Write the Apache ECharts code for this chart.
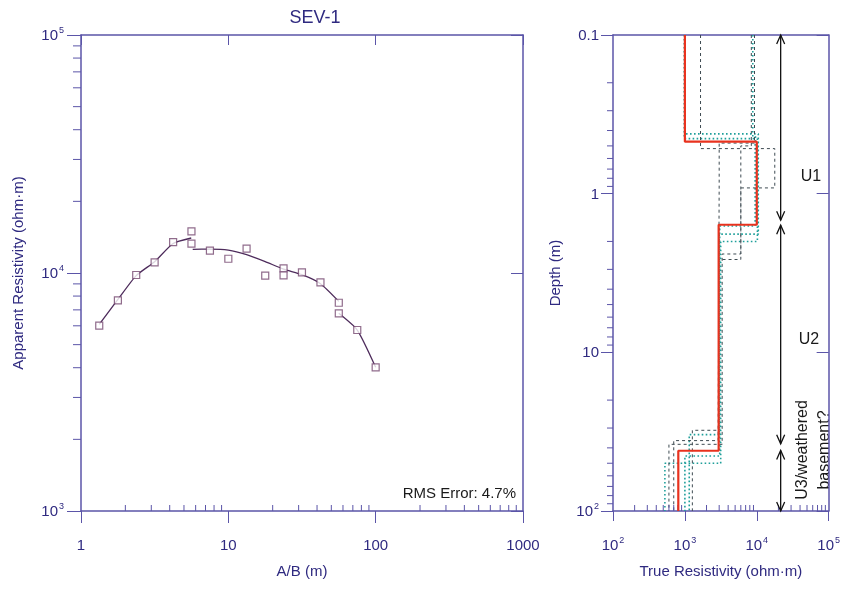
<!DOCTYPE html>
<html><head><meta charset="utf-8">
<script src="https://cdn.jsdelivr.net/npm/echarts@6/dist/echarts.min.js"></script>
<style>html,body{margin:0;padding:0;background:#fff}#c{width:843px;height:589px}</style>
</head><body><div id="c"></div>
<script>
// ---------------- data ----------------
// Left panel: measured apparent resistivity vs A/B (m)
const abSpacing = [1.33, 1.78, 2.37, 3.16, 4.22, 5.62, 5.62, 7.5, 10, 13.3, 17.8, 23.7, 23.7, 31.6, 42.2, 56.2, 56.2, 75, 100];
const rhoApparent = [6010, 7680, 9810, 11090, 13490, 14970, 13280, 12410, 11480, 12650, 9740, 10460, 9780, 10070, 9140, 7500, 6770, 5760, 4016];
// fitted (model response) curve segments
const fit1AB = [1.33, 1.78, 2.37, 3.16, 4.22, 5.6];
const fit1Rho = [6080, 7740, 9750, 11150, 13300, 14030];
const fit2AB = [5.73, 7.5, 10, 13.3, 17.8, 23.7, 31.6, 42.2, 56.2];
const fit2Rho = [12580, 12600, 12480, 11950, 11170, 10380, 9840, 9020, 7600];
const fit3AB = [56.2, 75, 100];
const fit3Rho = [6770, 5760, 4016];

// Right panel: layered model (true resistivity, layer boundaries in depth)
const modelRho = [1000, 10000, 2950, 810];
const modelDepth = [0.1, 0.47, 1.57, 41.7, 100];
// equivalent models (dotted)
const eqRhoA = [980, 9500, 3050, 1000];         const eqDepthA = [0.1, 0.45, 1.6, 45, 100];
const eqRhoB = [8800, 10200, 3150, 527];        const eqDepthB = [0.1, 0.44, 2.0, 50, 100];
const eqRhoC = [1650, 17800, 6000, 2950, 1270]; const eqDepthC = [0.1, 0.52, 0.92, 2.6, 31, 100];
const eqRhoD = [8400, 6000, 3300, 600];         const eqDepthD = [0.1, 0.50, 2.4, 38, 100];
const eqRhoE = [1000, 10500, 3000, 1150];       const eqDepthE = [0.1, 0.42, 1.8, 33, 100];
const eqRhoF = [9300, 3000, 2900, 700];         const eqDepthF = [0.1, 0.48, 0.85, 36, 100];

// unit interpretation arrows
const unitArrowRho = 21500;
const unitTop = [0.1, 1.58, 41.5];
const unitBottom = [1.47, 37.7, 100];

// tick values
const abMajor = [1, 10, 100, 1000];
const abMinor = [2,3,4,5,6,7,8,9, 20,30,40,50,60,70,80,90, 200,300,400,500,600,700,800,900];
const rhoAMinor = [2000,3000,4000,5000,6000,7000,8000,9000, 20000,30000,40000,50000,60000,70000,80000,90000];
const trueRhoMinor = [200,300,400,500,600,700,800,900, 2000,3000,4000,5000,6000,7000,8000,9000, 20000,30000,40000,50000,60000,70000,80000,90000];
const depthMinor = [0.2,0.3,0.4,0.5,0.6,0.7,0.8,0.9, 2,3,4,5,6,7,8,9, 20,30,40,50,60,70,80,90];

// ---------------- styling ----------------
const FONT = "'Liberation Sans', Arial, sans-serif";
const AXIS = '#5b55a8';
const TXT = '#2f2a80';
const supRich = {
  b: {fontSize: 15, fontFamily: FONT, color: TXT, lineHeight: 17, verticalAlign: 'bottom'},
  s: {fontSize: 9, fontFamily: FONT, color: TXT, lineHeight: 10, verticalAlign: 'top', padding: [0, 0, 0, 1]}
};
function powLabel(v) {
  const e = Math.round(Math.log10(v));
  return '{b|10}{s|' + e + '}';
}
function depthLabel(v) {
  if (v < 0.5) return '{b|0.1}';
  if (v < 5) return '{b|1}';
  if (v < 50) return '{b|10}';
  return powLabel(v);
}
function plainLabel(v) {
  const e = Math.round(Math.log10(v));
  return String(abMajor[e] !== undefined ? abMajor[e] : Math.round(v));
}
function stepPath(rho, depth) {
  const pts = [];
  for (let i = 0; i < rho.length; i++) {
    pts.push([rho[i], depth[i]]);
    pts.push([rho[i], depth[i + 1]]);
  }
  return pts;
}
function tickSeries(xi, yi, pts, dx, dy) {
  return {
    type: 'custom', xAxisIndex: xi, yAxisIndex: yi, silent: true, clip: false, z: 5,
    data: pts,
    renderItem: function (params, api) {
      const p = api.coord([api.value(0), api.value(1)]);
      return {type: 'line', shape: {x1: p[0], y1: p[1], x2: p[0] + dx, y2: p[1] + dy},
        style: {stroke: AXIS, lineWidth: 1}};
    }
  };
}

const chart = echarts.init(document.getElementById('c'), null, {renderer: 'canvas'});

const lineAxis = {show: true, lineStyle: {color: AXIS, width: 1.5}};
const series = [];

// measured points
series.push({
  type: 'scatter', xAxisIndex: 0, yAxisIndex: 0, z: 4,
  data: abSpacing.map((x, i) => [x, rhoApparent[i]]),
  symbol: 'rect', symbolSize: 7,
  itemStyle: {color: '#ffffff', borderColor: '#74476f', borderWidth: 1.2}
});
[[fit1AB, fit1Rho], [fit2AB, fit2Rho], [fit3AB, fit3Rho]].forEach(function (f) {
  series.push({
    type: 'line', xAxisIndex: 0, yAxisIndex: 0, z: 3, symbol: 'none', smooth: 0.2,
    data: f[0].map((x, i) => [x, f[1][i]]),
    lineStyle: {color: '#4e2c5c', width: 1.3}
  });
});

// equivalent models
const TEAL = '#1f9f9a', DARK = '#3e4b52';
[[eqRhoA, eqDepthA, TEAL], [eqRhoB, eqDepthB, TEAL], [eqRhoC, eqDepthC, DARK],
 [eqRhoD, eqDepthD, DARK], [eqRhoE, eqDepthE, TEAL], [eqRhoF, eqDepthF, DARK]].forEach(function (m) {
  const teal = m[2] === TEAL;
  series.push({
    type: 'line', xAxisIndex: 1, yAxisIndex: 1, z: 2, symbol: 'none',
    data: stepPath(m[0], m[1]),
    lineStyle: {color: m[2], width: teal ? 1.6 : 1, type: teal ? [1.6, 2.4] : [3, 3]}
  });
});
// best model
series.push({
  type: 'line', xAxisIndex: 1, yAxisIndex: 1, z: 6, symbol: 'none',
  data: stepPath(modelRho, modelDepth),
  lineStyle: {color: '#e8321e', width: 2.2}
});
// unit arrows
series.push({
  type: 'custom', xAxisIndex: 1, yAxisIndex: 1, silent: true, clip: false, z: 7,
  data: unitTop.map((t, i) => [unitArrowRho, t, unitBottom[i]]),
  renderItem: function (params, api) {
    const p1 = api.coord([api.value(0), api.value(1)]);
    const p2 = api.coord([api.value(0), api.value(2)]);
    const st = {stroke: '#111', lineWidth: 1.3, fill: null};
    return {type: 'group', children: [
      {type: 'line', shape: {x1: p1[0], y1: p1[1], x2: p2[0], y2: p2[1]}, style: st},
      {type: 'polyline', shape: {points: [[p1[0] - 4, p1[1] + 9], [p1[0], p1[1]], [p1[0] + 4, p1[1] + 9]]}, style: st},
      {type: 'polyline', shape: {points: [[p2[0] - 4, p2[1] - 9], [p2[0], p2[1]], [p2[0] + 4, p2[1] - 9]]}, style: st}
    ]};
  }
});
// minor ticks
series.push(tickSeries(0, 0, rhoAMinor.map(v => [1, v]), -8, 0));
series.push(tickSeries(0, 0, abMinor.map(v => [v, 1000]), 0, -6));
series.push(tickSeries(1, 1, depthMinor.map(v => [100, v]), -6, 0));
series.push(tickSeries(1, 1, trueRhoMinor.map(v => [v, 100]), 0, -6));

const option = {
  backgroundColor: '#ffffff',
  animation: false,
  textStyle: {fontFamily: FONT},
  grid: [
    {left: 81, top: 35, width: 442, height: 476},
    {left: 613, top: 35, width: 223, height: 476}
  ],
  xAxis: [
    {type: 'log', logBase: 10, gridIndex: 0, min: 1, max: 1000, position: 'bottom',
     axisLine: lineAxis, axisTick: {show: true, inside: false, length: 12, lineStyle: {color: AXIS}},
     axisLabel: {margin: 27, fontSize: 15, color: TXT, fontFamily: FONT, formatter: plainLabel},
     splitLine: {show: false},
     name: 'A/B (m)', nameLocation: 'middle', nameGap: 53,
     nameTextStyle: {fontSize: 15, color: TXT, fontFamily: FONT}},
    {type: 'log', logBase: 10, gridIndex: 1, min: 100, max: 100000, position: 'bottom',
     axisLine: lineAxis, axisTick: {show: true, inside: false, length: 10, lineStyle: {color: AXIS}},
     axisLabel: {margin: 25, formatter: powLabel, rich: supRich},
     splitLine: {show: false},
     name: 'True Resistivity (ohm·m)', nameLocation: 'middle', nameGap: 53,
     nameTextStyle: {fontSize: 15, color: TXT, fontFamily: FONT}},
    {type: 'log', logBase: 10, gridIndex: 0, min: 1, max: 1000, position: 'top',
     axisLine: lineAxis, axisTick: {show: true, inside: true, length: 10, lineStyle: {color: AXIS}},
     axisLabel: {show: false}, splitLine: {show: false}},
    {type: 'log', logBase: 10, gridIndex: 1, min: 100, max: 100000, position: 'top',
     axisLine: lineAxis, axisTick: {show: false}, axisLabel: {show: false}, splitLine: {show: false}}
  ],
  yAxis: [
    {type: 'log', logBase: 10, gridIndex: 0, min: 1000, max: 100000, position: 'left',
     axisLine: lineAxis, axisTick: {show: true, inside: false, length: 14, lineStyle: {color: AXIS}},
     axisLabel: {margin: 17, formatter: powLabel, rich: supRich},
     splitLine: {show: false},
     name: 'Apparent Resistivity (ohm·m)', nameLocation: 'middle', nameGap: 55,
     nameTextStyle: {fontSize: 15, color: TXT, fontFamily: FONT}},
    {type: 'log', logBase: 10, gridIndex: 1, min: 0.1, max: 100, inverse: true, position: 'left',
     axisLine: lineAxis, axisTick: {show: true, inside: false, length: 12, lineStyle: {color: AXIS}},
     axisLabel: {margin: 14, formatter: depthLabel, rich: supRich},
     splitLine: {show: false},
     name: 'Depth (m)', nameLocation: 'middle', nameGap: 50,
     nameTextStyle: {fontSize: 15, color: TXT, fontFamily: FONT}},
    {type: 'log', logBase: 10, gridIndex: 0, min: 1000, max: 100000, position: 'right',
     axisLine: lineAxis, axisTick: {show: true, inside: true, length: 12, lineStyle: {color: AXIS}},
     axisLabel: {show: false}, splitLine: {show: false}},
    {type: 'log', logBase: 10, gridIndex: 1, min: 0.1, max: 100, inverse: true, position: 'right',
     axisLine: lineAxis, axisTick: {show: true, inside: true, length: 12, lineStyle: {color: AXIS}},
     axisLabel: {show: false}, splitLine: {show: false}}
  ],
  graphic: [
    {type: 'text', x: 315, y: 18, style: {text: 'SEV-1', fontSize: 18, fontFamily: FONT, fill: TXT, align: 'center', verticalAlign: 'middle'}},
    {type: 'text', x: 516, y: 494, style: {text: 'RMS Error: 4.7%', fontSize: 15, fontFamily: FONT, fill: '#1a1a1a', align: 'right', verticalAlign: 'middle'}},
    {type: 'text', x: 811, y: 177, style: {text: 'U1', fontSize: 16, fontFamily: FONT, fill: '#1a1a1a', align: 'center', verticalAlign: 'middle'}},
    {type: 'text', x: 809, y: 340, style: {text: 'U2', fontSize: 16, fontFamily: FONT, fill: '#1a1a1a', align: 'center', verticalAlign: 'middle'}},
    {type: 'text', x: 814, y: 450, rotation: Math.PI / 2, style: {text: 'U3/weathered\nbasement?', fontSize: 16, lineHeight: 22, fontFamily: FONT, fill: '#1a1a1a', align: 'center', verticalAlign: 'middle'}}
  ],
  series: series
};
chart.setOption(option);
</script>
</body></html>
